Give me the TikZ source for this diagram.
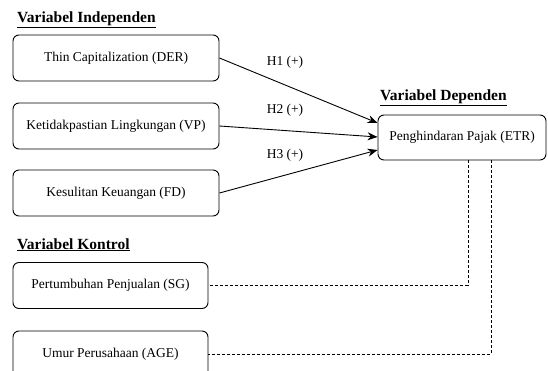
\documentclass[tikz,border=0pt]{standalone}
\usepackage{fontspec}
\setmainfont{Liberation Serif}
\usetikzlibrary{arrows.meta}
\begin{document}
\begin{tikzpicture}[x=1pt,y=-1pt,
  box/.style={draw,rounded corners=6pt,line width=0.9pt,inner sep=0pt,font=\fontsize{13.5}{16}\selectfont},
  ttl/.style={font=\bfseries\fontsize{15.5}{18}\selectfont,anchor=base west,inner sep=0pt},
  hlab/.style={font=\fontsize{13.5}{16}\selectfont,inner sep=0pt},
  arr/.style={-{Stealth[length=10pt,width=8pt]},line width=0.9pt},
  dsh/.style={dashed,dash pattern=on 3pt off 2pt,line width=0.8pt}]
\useasboundingbox (0,0) rectangle (548,371);
\clip (0,0) rectangle (548,371);
\node[ttl] (t1) at (17,23) {\underline{Variabel Independen}};
\node[ttl] (t2) at (380,101) {\underline{Variabel Dependen}};
\node[ttl] (t3) at (17,249) {\underline{Variabel Kontrol}};
\node[box,minimum width=206pt,minimum height=46pt] (der) at (116,58) {Thin Capitalization (DER)};
\node[box,minimum width=206pt,minimum height=46pt] (vp) at (116,126) {Ketidakpastian Lingkungan (VP)};
\node[box,minimum width=206pt,minimum height=46pt] (fd) at (116,193) {Kesulitan Keuangan (FD)};
\node[box,minimum width=195pt,minimum height=46pt] (sg) at (110.5,285.5) {Pertumbuhan Penjualan (SG)};
\node[box,minimum width=195pt,minimum height=46pt] (age) at (110.5,354) {Umur Perusahaan (AGE)};
\node[box,minimum width=168pt,minimum height=45pt] (etr) at (462,137.5) {Penghindaran Pajak (ETR)};
\draw[arr] (der.east) -- (etr.west |- 0,123);
\draw[arr] (vp.east) -- (etr.west |- 0,137);
\draw[arr] (fd.east) -- (etr.west |- 0,150);
\node[hlab] (h1) at (285,62) {H1 (+)};
\node[hlab] (h2) at (285,110) {H2 (+)};
\node[hlab] (h3) at (285,155) {H3 (+)};
\draw[dsh] (etr.south -| 468,0) |- (sg.east);
\draw[dsh] (etr.south -| 491,0) |- (age.east);
\end{tikzpicture}
\end{document}
